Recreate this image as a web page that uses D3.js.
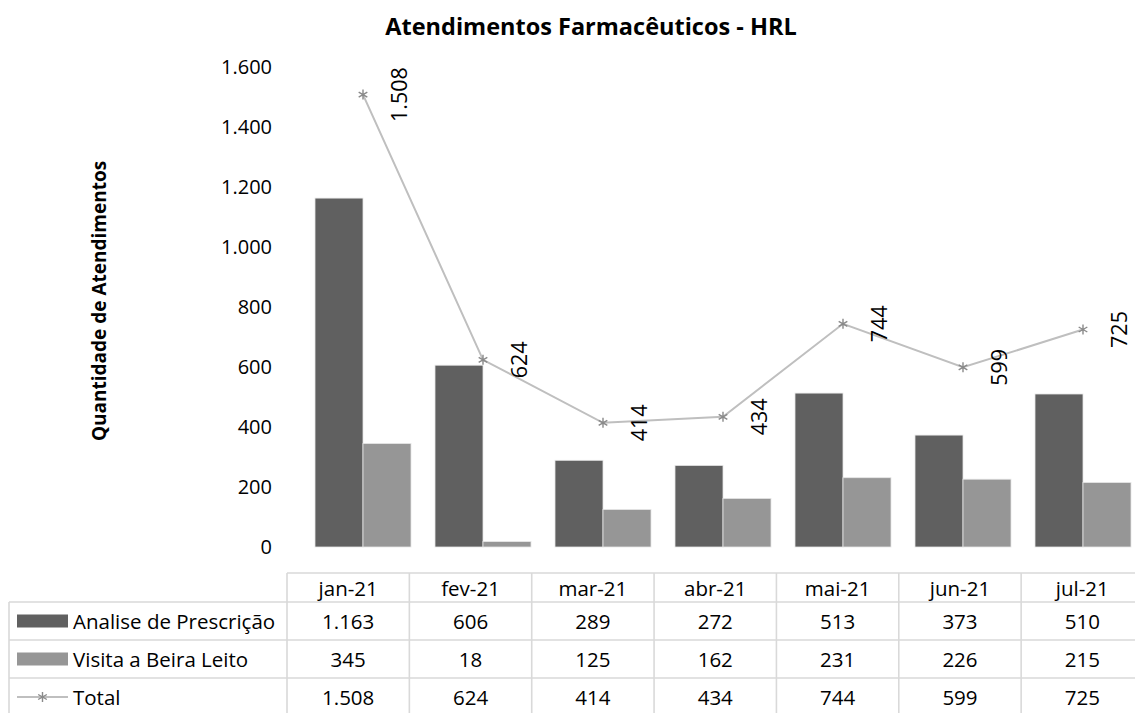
<!DOCTYPE html>
<html>
<head>
<meta charset="utf-8">
<script src="https://cdn.jsdelivr.net/npm/d3@7"></script>
<style>
  html, body { margin: 0; padding: 0; background: #ffffff; }
  svg { display: block; font-family: "Open Sans", "Noto Sans", sans-serif; }
</style>
</head>
<body>
<svg id="chart" width="1135" height="713"></svg>
<script>
// Monthly pharmaceutical care counts
const categories = ["jan-21", "fev-21", "mar-21", "abr-21", "mai-21", "jun-21", "jul-21"];
const prescricao = [1163, 606, 289, 272, 513, 373, 510];
const visita = [345, 18, 125, 162, 231, 226, 215];
const total = [1508, 624, 414, 434, 744, 599, 725];
const yTicks = [0, 200, 400, 600, 800, 1000, 1200, 1400, 1600];
const seriesNames = ["Analise de Prescrição", "Visita a Beira Leito", "Total"];

const ptBR = d3.formatLocale({ decimal: ",", thousands: ".", grouping: [3], currency: ["R$", ""] });
const fmt = ptBR.format(",d");

const svg = d3.select("#chart");
const darkFill = "#606060";
const lightFill = "#969696";
const lineColor = "#bfbfbf";
const markerColor = "#8a8a8a";
const gridColor = "#d9d9d9";

// Scales
const y = d3.scaleLinear().domain([0, 1600]).range([547, 67]);
const xBar = d3.scaleBand().domain(categories).range([303, 1143]).paddingInner(0.2).paddingOuter(0.1);
const xSub = d3.scaleBand().domain(["p", "v"]).range([0, xBar.bandwidth()]);
const xCol = d3.scaleBand().domain(categories).range([287, 1143.5]);

// Title
svg.append("text")
  .attr("x", 591).attr("y", 35)
  .attr("text-anchor", "middle")
  .attr("font-weight", "bold")
  .attr("font-size", 23.5)
  .attr("fill", "#000")
  .text("Atendimentos Farmacêuticos - HRL");

// Y axis title
svg.append("text")
  .attr("transform", "translate(99,301) rotate(-90)")
  .attr("text-anchor", "middle")
  .attr("dominant-baseline", "central")
  .attr("font-weight", "bold")
  .attr("font-size", 19)
  .attr("fill", "#000")
  .text("Quantidade de Atendimentos");

// Y axis (labels only)
const yAxis = svg.append("g")
  .attr("transform", "translate(281,0)")
  .call(d3.axisLeft(y).tickValues(yTicks).tickFormat(fmt).tickSize(0).tickPadding(9));
yAxis.select(".domain").remove();
yAxis.selectAll("text")
  .attr("font-family", "\"Open Sans\", sans-serif")
  .attr("font-size", 20)
  .attr("fill", "#000");

// Bars
const barData = categories.map((c, i) => ({ c, p: prescricao[i], v: visita[i] }));
const groups = svg.append("g").selectAll("g")
  .data(barData).join("g")
  .attr("transform", d => `translate(${xBar(d.c)},0)`);
groups.append("rect")
  .attr("x", xSub("p")).attr("width", xSub.bandwidth())
  .attr("y", d => y(d.p)).attr("height", d => y(0) - y(d.p))
  .attr("fill", darkFill).attr("stroke", "#e6e6e6").attr("stroke-width", 0.8);
groups.append("rect")
  .attr("x", xSub("v")).attr("width", xSub.bandwidth())
  .attr("y", d => y(d.v)).attr("height", d => y(0) - y(d.v))
  .attr("fill", lightFill).attr("stroke", "#e6e6e6").attr("stroke-width", 0.8);

// Total line
const cx = c => xBar(c) + xBar.bandwidth() / 2;
const lineData = categories.map((c, i) => ({ c, t: total[i] }));
svg.append("path")
  .datum(lineData)
  .attr("fill", "none")
  .attr("stroke", lineColor)
  .attr("stroke-width", 2)
  .attr("d", d3.line().x(d => cx(d.c)).y(d => y(d.t)));

const star = d3.symbol().type(d3.symbolAsterisk).size(70);
svg.append("g").selectAll("path")
  .data(lineData).join("path")
  .attr("transform", d => `translate(${cx(d.c)},${y(d.t)})`)
  .attr("d", star)
  .attr("fill", "none")
  .attr("stroke", markerColor)
  .attr("stroke-width", 1.4);

// Rotated value labels
svg.append("g").selectAll("text")
  .data(lineData).join("text")
  .attr("transform", d => `translate(${cx(d.c) + 35},${y(d.t)}) rotate(-90)`)
  .attr("text-anchor", "middle")
  .attr("dominant-baseline", "central")
  .attr("font-size", 21.5)
  .attr("fill", "#000")
  .text(d => fmt(d.t));

// Data table
const rowTop = [573, 602, 640, 678, 716];
const table = svg.append("g").attr("stroke", gridColor).attr("stroke-width", 1.6);
const x0 = xCol.range()[0], x1 = xCol.range()[1];
table.append("line").attr("x1", x0).attr("x2", x1).attr("y1", rowTop[0]).attr("y2", rowTop[0]);
rowTop.slice(1).forEach(yy => {
  table.append("line").attr("x1", 9).attr("x2", x1).attr("y1", yy).attr("y2", yy);
});
table.append("line").attr("x1", 9).attr("x2", 9).attr("y1", rowTop[1]).attr("y2", rowTop[4]);
categories.concat([null]).forEach((c, i) => {
  const xx = c ? xCol(c) : x1;
  table.append("line").attr("x1", xx).attr("x2", xx).attr("y1", rowTop[0]).attr("y2", rowTop[4]);
});

const rowMid = i => (rowTop[i] + rowTop[i + 1]) / 2;
const cellText = (vals, rowIdx) => {
  svg.append("g").selectAll("text")
    .data(vals).join("text")
    .attr("x", (d, i) => xCol(categories[i]) + xCol.bandwidth() / 2)
    .attr("y", rowMid(rowIdx))
    .attr("text-anchor", "middle")
    .attr("dominant-baseline", "central")
    .attr("font-size", 20.5)
    .attr("fill", "#000")
    .text(d => d);
};
cellText(categories, 0);
cellText(prescricao.map(fmt), 1);
cellText(visita.map(fmt), 2);
cellText(total.map(fmt), 3);

// Legend keys in the table
const legend = svg.append("g");
legend.append("rect").attr("x", 17).attr("y", rowMid(1) - 6.5).attr("width", 51).attr("height", 13).attr("fill", darkFill);
legend.append("rect").attr("x", 17).attr("y", rowMid(2) - 6.5).attr("width", 51).attr("height", 13).attr("fill", lightFill);
legend.append("line").attr("x1", 17).attr("x2", 68).attr("y1", rowMid(3)).attr("y2", rowMid(3))
  .attr("stroke", lineColor).attr("stroke-width", 2);
legend.append("path").attr("transform", `translate(42.5,${rowMid(3)})`)
  .attr("d", star).attr("fill", "none").attr("stroke", markerColor).attr("stroke-width", 1.4);
legend.selectAll("text.name")
  .data(seriesNames).join("text")
  .attr("class", "name")
  .attr("x", 73)
  .attr("y", (d, i) => rowMid(i + 1))
  .attr("dominant-baseline", "central")
  .attr("font-size", 20.5)
  .attr("fill", "#000")
  .text(d => d);
</script>
</body>
</html>
